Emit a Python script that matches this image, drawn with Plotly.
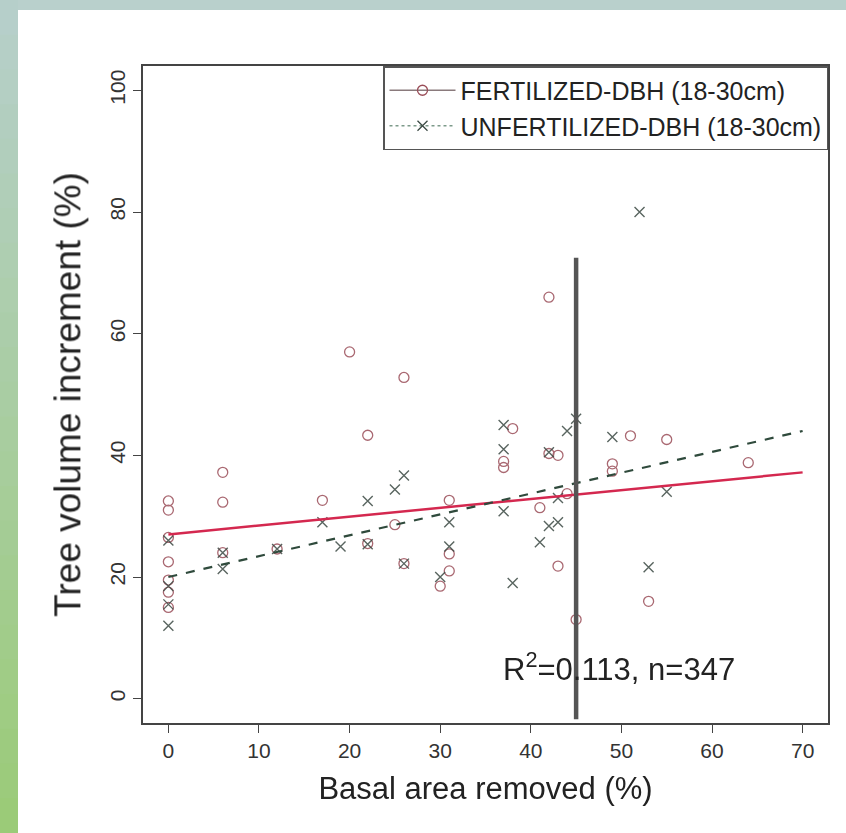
import plotly.graph_objects as go

# ---------------- data ----------------
fert_x = [0, 0, 0, 0, 0, 0, 0, 6, 6, 6, 12, 17, 20, 22, 22, 25, 26, 26, 30, 31, 31, 31,
          37, 37, 38, 41, 42, 42, 43, 43, 44, 45, 49, 49, 51, 53, 55, 64]
fert_y = [32.5, 31, 26.5, 22.5, 19.5, 17.5, 15, 37.2, 32.3, 24, 24.6, 32.6, 57, 43.3, 25.5, 28.6, 52.8, 22.2,
          18.5, 32.6, 23.8, 21, 38, 39, 44.4, 31.4, 66, 40.3, 40, 21.8, 33.7, 13, 38.6, 37.4, 43.2, 16, 42.6, 38.8]

unfert_x = [0, 0, 0, 0, 6, 6, 12, 17, 19, 22, 22, 25, 26, 26, 30, 31, 31, 37, 37, 37, 38,
            41, 42, 43, 42, 43, 44, 45, 49, 52, 53, 55]
unfert_y = [26, 18.5, 15.5, 12, 24, 21.3, 24.6, 29, 25, 32.5, 25.4, 34.4, 36.7, 22.2, 20, 29, 25, 45, 41, 30.8, 19,
            25.7, 28.4, 29, 40.5, 33, 44, 46, 43, 80, 21.6, 34]

fit_x = [0, 70]
fert_fit_y = [27.0, 37.2]
unfert_fit_y = [20.0, 44.0]

cut_x = [45, 45]
cut_y = [-3.4, 72.5]

x_ticks = [0, 10, 20, 30, 40, 50, 60, 70]
y_ticks = [0, 20, 40, 60, 80, 100]

series_names = ["FERTILIZED-DBH (18-30cm)", "UNFERTILIZED-DBH (18-30cm)"]
stat_text = "R<sup>2</sup>=0.113, n=347"
stat_pos = (49.7, 5.2)

x_title = "Basal area removed (%)"
y_title = "Tree volume increment (%)"

# ---------------- style ----------------
W, H = 846, 833
ML, MR, MT, MB = 143, 18, 66, 110
FONT = "Liberation Sans, Arial, sans-serif"
FERT_COL = "#9a4d58"
UNF_COL = "#3c4a44"

fig = go.Figure()

fig.add_trace(go.Scatter(x=fert_x, y=fert_y, mode="markers", showlegend=False,
                         marker=dict(symbol="circle-open", size=10, color=FERT_COL,
                                     line=dict(width=1.3, color=FERT_COL)), opacity=0.85))
fig.add_trace(go.Scatter(x=unfert_x, y=unfert_y, mode="markers", showlegend=False,
                         marker=dict(symbol="x-thin-open", size=10, color=UNF_COL,
                                     line=dict(width=1.4, color=UNF_COL)), opacity=0.85))

fig.add_trace(go.Scatter(x=fit_x, y=fert_fit_y, mode="lines", showlegend=False,
                         line=dict(color="#d4284f", width=2.5)))
fig.add_trace(go.Scatter(x=fit_x, y=unfert_fit_y, mode="lines", showlegend=False,
                         line=dict(color="#2f4a3c", width=2.2, dash="dash")))
fig.add_trace(go.Scatter(x=cut_x, y=cut_y, mode="lines", showlegend=False,
                         line=dict(color="#555555", width=4.5)))

# legend entries
fig.add_trace(go.Scatter(x=[None], y=[None], mode="lines+markers", name=series_names[0],
                         line=dict(color="#8a7a7c", width=1.3),
                         marker=dict(symbol="circle-open", size=10, color=FERT_COL,
                                     line=dict(width=1.3, color=FERT_COL))))
fig.add_trace(go.Scatter(x=[None], y=[None], mode="lines+markers", name=series_names[1],
                         line=dict(color="#7d9a8a", width=1.3, dash="dot"),
                         marker=dict(symbol="x-thin-open", size=10, color=UNF_COL,
                                     line=dict(width=1.3, color=UNF_COL))))

fig.add_annotation(x=stat_pos[0], y=stat_pos[1], text=stat_text, showarrow=False,
                   font=dict(family=FONT, size=31, color="#222222"))

# background frame (top band and left gradient strip)
pw = W - ML - MR
ph = H - MT - MB
def px2x(p):
    return (p - ML) / pw
def py2y(p):
    return 1 - (p - MT) / ph

shapes = []
shapes.append(dict(type="rect", xref="paper", yref="paper", x0=px2x(0), x1=px2x(W),
                   y0=py2y(10), y1=py2y(0), fillcolor="#b9d0cc", line=dict(width=0), layer="below"))
n = 24
c0 = (0xb6, 0xcf, 0xca)
c1 = (0x9b, 0xcb, 0x78)
for i in range(n):
    t = i / (n - 1)
    c = tuple(int(round(c0[k] + (c1[k] - c0[k]) * t)) for k in range(3))
    shapes.append(dict(type="rect", xref="paper", yref="paper", x0=px2x(0), x1=px2x(18),
                       y0=py2y(H * (i + 1) / n + 1), y1=py2y(H * i / n),
                       fillcolor="rgb(%d,%d,%d)" % c, line=dict(width=0), layer="below"))
fig.update_layout(shapes=shapes)

axis_common = dict(showgrid=False, zeroline=False, showline=True, mirror=True,
                   linecolor="#444444", linewidth=1.5, ticks="outside", ticklen=8,
                   tickwidth=1.3, tickcolor="#444444",
                   tickfont=dict(family=FONT, size=21, color="#333333"))

fig.update_xaxes(range=[-2.8, 72.8], tickvals=x_ticks, title=dict(text=x_title, standoff=16,
                 font=dict(family=FONT, size=31, color="#222222")), **axis_common)
fig.update_yaxes(range=[-4, 104], tickvals=y_ticks, tickangle=-90,
                 title=dict(text=y_title, standoff=14, font=dict(family=FONT, size=37, color="#222222")),
                 **axis_common)

fig.update_layout(
    width=W, height=H,
    margin=dict(l=ML, r=MR, t=MT, b=MB),
    paper_bgcolor="white", plot_bgcolor="white",
    legend=dict(x=1, y=1, xanchor="right", yanchor="top", bgcolor="white",
                bordercolor="#555555", borderwidth=1.5, itemwidth=66,
                font=dict(family=FONT, size=25, color="#222222")),
)

fig.write_html("out.html", config={"displayModeBar": False},
               post_script="document.body.style.margin='0';")
